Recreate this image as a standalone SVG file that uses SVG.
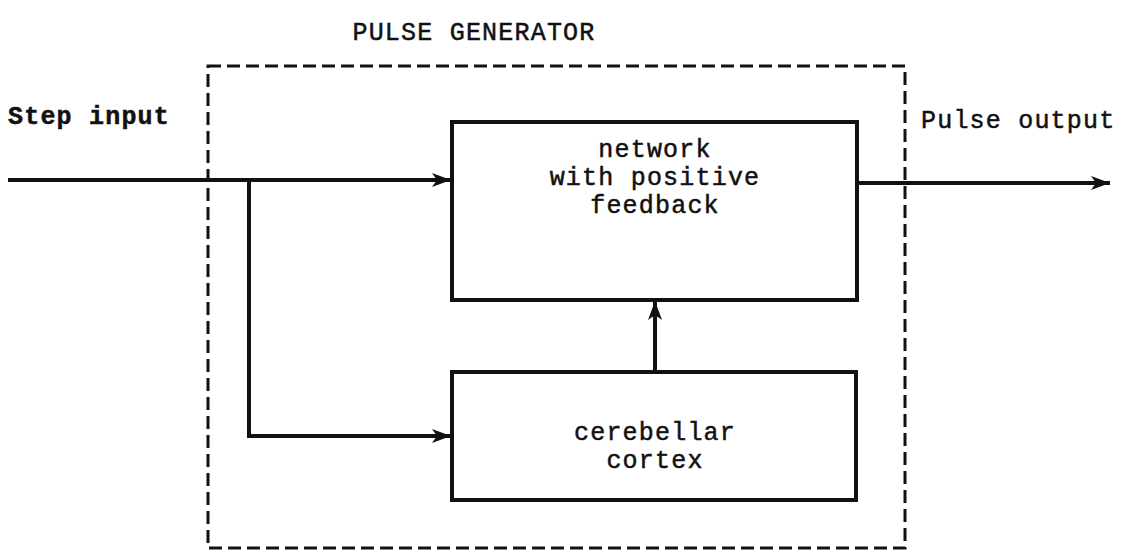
<svg xmlns="http://www.w3.org/2000/svg" width="1136" height="555" viewBox="0 0 1136 555">
<defs>
<marker id="arr" markerWidth="20" markerHeight="16" refX="19" refY="8" orient="auto" markerUnits="userSpaceOnUse">
<path d="M0,1 L19,8 L0,15 L5,8 Z" fill="#111"/>
</marker>
<style>
.t{font-family:"Liberation Mono","Courier New",monospace;font-size:25px;fill:#111;stroke:#111;stroke-width:0.5px;letter-spacing:1.2px}
.c{text-anchor:middle}
.box{fill:none;stroke:#111;stroke-width:4}
.ln{fill:none;stroke:#111;stroke-width:4;stroke-linejoin:miter}
.dash{fill:none;stroke:#111;stroke-width:3;stroke-dasharray:13 6}
</style>
</defs>
<rect width="1136" height="555" fill="#fff"/>
<text class="t c" x="474" y="40">PULSE GENERATOR</text>
<g id="generator">
<rect class="dash" x="208" y="66" width="697" height="482"/>
</g>
<g id="network">
<rect class="box" x="452" y="122" width="405" height="178"/>
<text class="t c" x="655" y="157">network</text>
<text class="t c" x="655" y="185">with positive</text>
<text class="t c" x="655" y="213">feedback</text>
</g>
<g id="cortex">
<rect class="box" x="452" y="372" width="404" height="128"/>
<text class="t c" x="655" y="440">cerebellar</text>
<text class="t c" x="655" y="468">cortex</text>
</g>
<g id="labels">
<text class="t" x="8" y="124" style="font-weight:bold">Step input</text>
<text class="t" x="921" y="128">Pulse output</text>
</g>
<g id="connectors">
<line class="ln" x1="8" y1="180" x2="451" y2="180" marker-end="url(#arr)"/>
<polyline class="ln" points="249,180 249,436 451,436" marker-end="url(#arr)"/>
<line class="ln" x1="655" y1="372" x2="655" y2="301" marker-end="url(#arr)"/>
<line class="ln" x1="857" y1="183" x2="1110" y2="183" marker-end="url(#arr)"/>
</g>
</svg>
